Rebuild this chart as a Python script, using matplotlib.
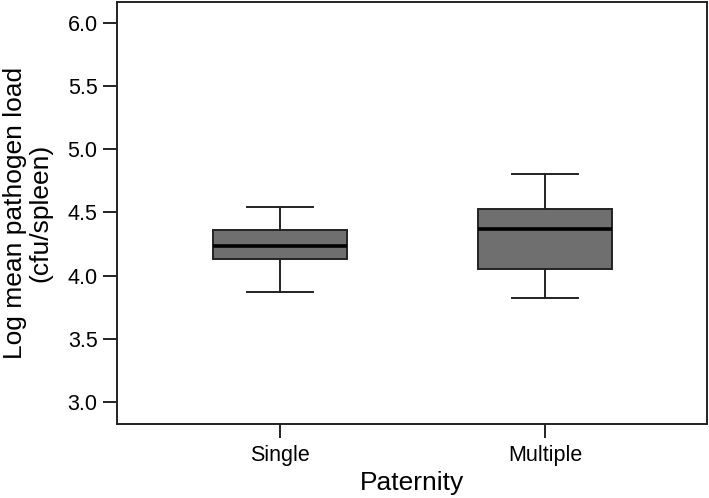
import numpy as np
import matplotlib.pyplot as plt

plt.rcParams['font.family'] = ['Liberation Sans', 'DejaVu Sans']

# box stats
groups   = ["Single", "Multiple"]
whislo   = [3.87, 3.82]
q1       = [4.135, 4.055]
medians  = [4.235, 4.37]
q3       = [4.36, 4.525]
whishi   = [4.545, 4.805]

stats = []
for i, g in enumerate(groups):
    stats.append(dict(label=g, whislo=whislo[i], q1=q1[i], med=medians[i],
                      q3=q3[i], whishi=whishi[i], fliers=[]))

fig = plt.figure(figsize=(7.09, 4.98), dpi=100)
ax = fig.add_axes([117/709, 1 - 424/498, 590/709, 422/498])

ax.bxp(stats, positions=[1, 2], widths=0.505, patch_artist=True, showfliers=False,
       boxprops=dict(facecolor='#6f6f6f', edgecolor='#222222', linewidth=1.4),
       medianprops=dict(color='black', linewidth=2.6),
       whiskerprops=dict(color='#222222', linewidth=1.4),
       capprops=dict(color='#222222', linewidth=1.4),
       capwidths=0.25)

ax.set_xlim(0.385, 2.611)
ax.set_ylim(2.826, 6.166)
ax.set_yticks(np.arange(3.0, 6.01, 0.5))
ax.set_yticklabels([f"{v:.1f}" for v in np.arange(3.0, 6.01, 0.5)])
ax.tick_params(axis='both', direction='out', length=10, width=1.4, labelsize=15.5, color='#222222')
ax.tick_params(axis='y', pad=4)
ax.tick_params(axis='x', pad=5)

for s in ax.spines.values():
    s.set_linewidth(1.4)
    s.set_color('#222222')

ax.set_xlabel("Paternity", fontsize=19, labelpad=3.5)
ax.set_ylabel("Log mean pathogen load\n(cfu/spleen)", fontsize=19, labelpad=11,
              linespacing=1.05)

fig.savefig("out.png", dpi=100)
